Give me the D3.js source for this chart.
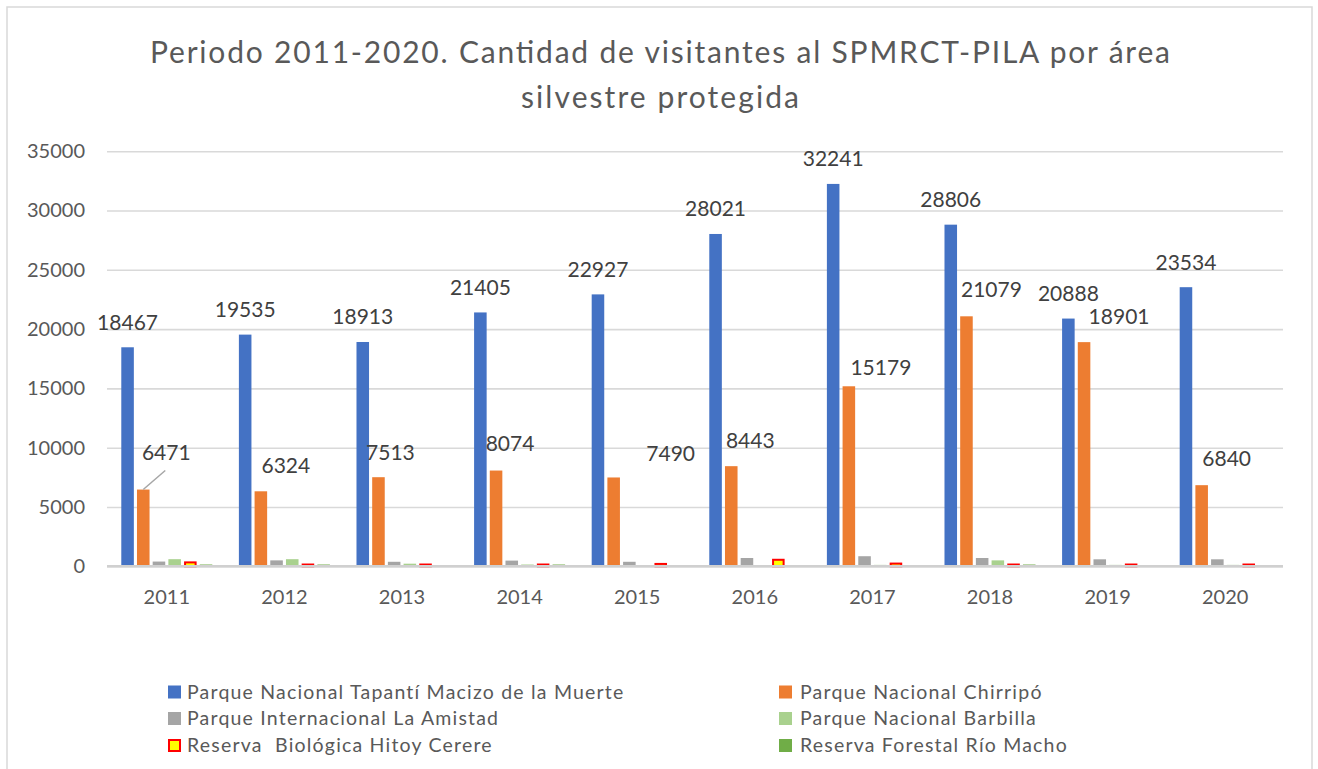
<!DOCTYPE html>
<html>
<head>
<meta charset="utf-8">
<script src="https://cdn.jsdelivr.net/npm/d3@7"></script>
<style>
  html, body { margin: 0; padding: 0; background: #fff; }
  svg text { font-family: Lato, "Open Sans", sans-serif; white-space: pre; }
</style>
</head>
<body>
<svg id="chart" width="1318" height="769"></svg>
<script>
// ---------- data ----------
const years = ["2011","2012","2013","2014","2015","2016","2017","2018","2019","2020"];
const seriesNames = [
  "Parque Nacional Tapantí Macizo de la Muerte",
  "Parque Nacional Chirripó",
  "Parque Internacional La Amistad",
  "Parque Nacional Barbilla",
  "Reserva  Biológica Hitoy Cerere",
  "Reserva Forestal Río Macho"
];
const tapanti  = [18467, 19535, 18913, 21405, 22927, 28021, 32241, 28806, 20888, 23534];
const chirripo = [6471, 6324, 7513, 8074, 7490, 8443, 15179, 21079, 18901, 6840];
const amistad  = [400, 500, 380, 480, 380, 700, 850, 700, 590, 590];
const barbilla = [600, 600, 220, 150, 0, 0, 120, 500, 120, 120];
const hitoy    = [330, 150, 150, 150, 200, 550, 230, 150, 150, 150];
const macho    = [150, 150, 0, 150, 0, 0, 0, 150, 0, 0];
const yTicks   = [0, 5000, 10000, 15000, 20000, 25000, 30000, 35000];
const titleLines = ["Periodo 2011-2020. Cantidad de visitantes al SPMRCT-PILA por área", "silvestre protegida"];

// ---------- styling / layout ----------
const fills   = ["#4472c4", "#ed7d31", "#a5a5a5", "#a9d18e", "#ffff00", "#70ad47"];
const strokes = [null, null, null, null, "#ff0000", null];
const titleWidths = [1020, 278];
// manual placement of the Chirripó labels (offset of label centre from bar top-centre, px)
const orangeLabelDx = [23, 25, 12, 14, 57, 19, 32, 25, 35, 25];
const orangeLabelDy = [-37, -26, -25, -27, -24, -26, -19, -27, -25, -27];

const series = [tapanti, chirripo, amistad, barbilla, hitoy, macho];
const svg = d3.select("#chart");

// chart border
svg.append("rect").attr("x", 7).attr("y", 7).attr("width", 1305).attr("height", 770)
  .attr("fill", "#fff").attr("stroke", "#d9d9d9").attr("stroke-width", 1.5);

// title
svg.append("g").selectAll("text").data(titleLines).join("text")
  .attr("x", 660).attr("y", (d, i) => 63 + i * 45)
  .attr("text-anchor", "middle").attr("fill", "#595959")
  .attr("textLength", (d, i) => titleWidths[i]).attr("lengthAdjust", "spacing")
  .style("font-size", "30px").text(d => d);

const plotL = 107, plotR = 1283;
const y = d3.scaleLinear().domain([0, 35000]).range([566.3, 151.2]);
const x0 = d3.scaleBand().domain(years).range([plotL + 1, plotR + 1]).paddingInner(0.226).paddingOuter(0.113);
const x1 = d3.scaleBand().domain(d3.range(series.length)).range([0, x0.bandwidth()]).paddingInner(0.2).paddingOuter(0);

// gridlines + y labels
const yAxis = d3.axisLeft(y).tickValues(yTicks).tickSize(-(plotR - plotL)).tickPadding(22).tickFormat(d3.format("d"));
const gy = svg.append("g").attr("transform", `translate(${plotL},0)`).call(yAxis);
gy.select(".domain").remove();
gy.selectAll(".tick line").attr("stroke", "#d9d9d9").attr("stroke-width", 1.6);
gy.selectAll(".tick text").attr("fill", "#595959").style("font-size", "20px");

// bars
const groups = svg.append("g").selectAll("g").data(years).join("g")
  .attr("transform", d => `translate(${x0(d)},0)`);
groups.selectAll("rect").data((yr, i) => series.map((s, k) => ({k, v: s[i]})).filter(d => d.v > 0))
  .join("rect")
  .attr("x", d => x1(d.k) + (strokes[d.k] ? 1 : 0))
  .attr("width", d => x1.bandwidth() - (strokes[d.k] ? 2 : 0))
  .attr("y", d => y(d.v))
  .attr("height", d => y(0) - y(d.v))
  .attr("fill", d => fills[d.k])
  .attr("stroke", d => strokes[d.k] || "none")
  .attr("stroke-width", 2);

// x axis (baseline + labels)
const xAxis = d3.axisBottom(x0).tickSize(0).tickPadding(24);
const gx = svg.append("g").attr("transform", `translate(0,${y(0)})`).call(xAxis);
gx.select(".domain").attr("stroke", "#d0d0d0").attr("stroke-width", 2.5)
  .attr("d", `M${plotL},0H${plotR}`);
gx.selectAll(".tick text").attr("fill", "#595959").style("font-size", "20px");

// data labels: Tapantí
svg.append("g").selectAll("text").data(tapanti).join("text")
  .attr("x", (d, i) => x0(years[i]) + x1(0) + x1.bandwidth() / 2)
  .attr("y", d => y(d) - 25)
  .attr("dy", "0.35em").attr("text-anchor", "middle")
  .attr("fill", "#404040").style("font-size", "21px").text(d => d);

// data labels: Chirripó
svg.append("g").selectAll("text").data(chirripo).join("text")
  .attr("x", (d, i) => x0(years[i]) + x1(1) + x1.bandwidth() / 2 + orangeLabelDx[i])
  .attr("y", (d, i) => y(d) + orangeLabelDy[i])
  .attr("dy", "0.35em").attr("text-anchor", "middle")
  .attr("fill", "#404040").style("font-size", "21px").text(d => d);

// leader line for the first Chirripó label
{
  const bx = x0(years[0]) + x1(1) + x1.bandwidth() / 2;
  svg.append("line").attr("x1", bx).attr("y1", y(chirripo[0]))
    .attr("x2", bx + 22).attr("y2", y(chirripo[0]) - 19)
    .attr("stroke", "#a6a6a6").attr("stroke-width", 1.5);
}

// legend
const legCols = [168, 779], legRows = [692, 718.5, 745.5];
const leg = svg.append("g").selectAll("g").data(seriesNames).join("g")
  .attr("transform", (d, i) => `translate(${legCols[i % 2]},${legRows[Math.floor(i / 2)]})`);
leg.append("rect").attr("x", (d, i) => strokes[i] ? 1 : 0).attr("y", (d, i) => strokes[i] ? -5.5 : -6.5)
  .attr("width", (d, i) => strokes[i] ? 11 : 13).attr("height", (d, i) => strokes[i] ? 11 : 13)
  .attr("fill", (d, i) => fills[i])
  .attr("stroke", (d, i) => strokes[i] || "none").attr("stroke-width", 2);
leg.append("text").attr("x", (d, i) => (i % 2 === 0 ? 19 : 21)).attr("dy", "0.35em")
  .attr("fill", "#595959").style("font-size", "19.5px").style("letter-spacing", "1.2px").text(d => d);
</script>
</body>
</html>
